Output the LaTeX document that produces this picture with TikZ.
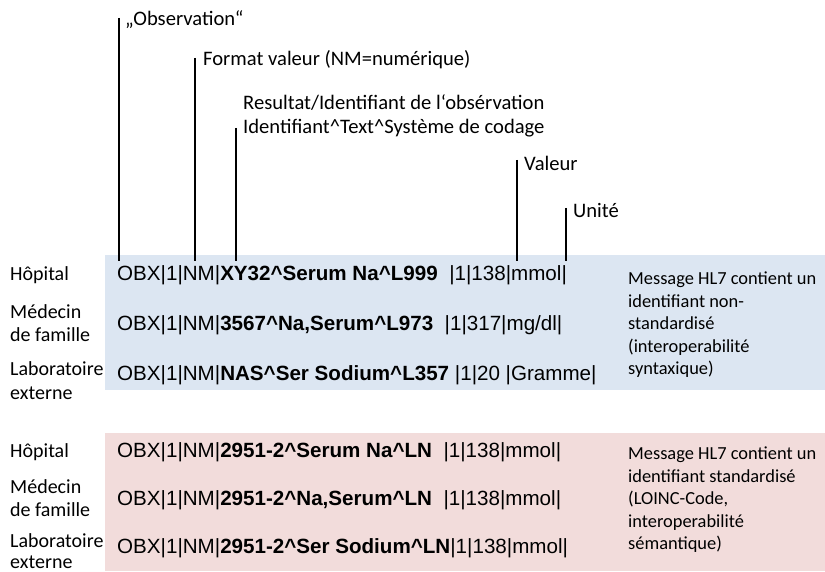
\documentclass[tikz,border=0pt]{standalone}
\usepackage{fontspec}
\setmainfont{Carlito}
\newfontfamily\obxfont{Liberation Sans}
\newcommand\crt{\textasciicircum}
\definecolor{syntblue}{HTML}{DCE6F2}
\definecolor{semred}{HTML}{F2DCDB}
\tikzset{
  lbl/.style={anchor=west,inner sep=0pt,font=\fontsize{20}{24}\selectfont},
  field/.style={lbl,font=\fontsize{20.6}{24}\selectfont},
  obx/.style={anchor=west,inner sep=0pt,font=\obxfont\fontsize{20.6}{24}\selectfont},
  note/.style={anchor=north west,inner sep=0pt,align=left,font=\fontsize{18.4}{22.5}\selectfont},
  marker/.style={line width=2.5pt}
}
\begin{document}
\begin{tikzpicture}[x=1pt,y=-1pt]
            \useasboundingbox (0,0) rectangle (825,572);
            \fill[syntblue] (105,255) rectangle (825,390);
            \fill[semred] (105,433) rectangle (825,571);
            % field labels
            \node[field] (obs) at (125,20) {„Observation“};
            \node[field] (fmt) at (203,60) {Format valeur (NM=numérique)};
            \node[field] (res) at (243,103) {Resultat/Identifiant de l‘obsérvation};
            \node[field] (ident) at (243,128) {Identifiant\crt Text\crt Système de codage};
            \node[field] (val) at (524,163) {Valeur};
            \node[field] (unit) at (573,210) {Unité};
            \foreach \n/\x/\y in {1/119/18,2/195/58,3/236/128,4/517/160,5/566/208}{
              \coordinate (t\n) at (\x,\y);
              \coordinate (b\n) at (\x,261);
              \draw[marker] (t\n) -- (b\n);
            }
            % non-standard identifiers
            \node[lbl] (hop1) at (10,275) {Hôpital};
            \node[lbl] (med1) at (10,312) {Médecin};
            \node[lbl] (fam1) at (10,335) {de famille};
            \node[lbl] (lab1) at (10,369) {Laboratoire};
            \node[lbl] (ext1) at (10,393) {externe};
            \node[obx] (m11) at (117,275) {OBX|1|NM|\textbf{XY32\crt Serum Na\crt L999}\ \ |1|138|mmol|};
            \node[obx] (m12) at (117,325) {OBX|1|NM|\textbf{3567\crt Na,Serum\crt L973}\ \ |1|317|mg/dl|};
            \node[obx] (m13) at (117,375) {OBX|1|NM|\textbf{NAS\crt Ser Sodium\crt L357}\ |1|20 |Gramme|};
            \node[note] (syn) at (628,272) {Message HL7 contient un\\identifiant non-\\standardisé\\(interoperabilité\\syntaxique)};
            % LOINC identifiers
            \node[lbl] (hop2) at (10,452) {Hôpital};
            \node[lbl] (med2) at (10,487) {Médecin};
            \node[lbl] (fam2) at (10,510) {de famille};
            \node[lbl] (lab2) at (10,541) {Laboratoire};
            \node[lbl] (ext2) at (10,562) {externe};
            \node[obx] (m21) at (117,452) {OBX|1|NM|\textbf{2951-2\crt Serum Na\crt LN}\ \ |1|138|mmol|};
            \node[obx] (m22) at (117,500) {OBX|1|NM|\textbf{2951-2\crt Na,Serum\crt LN}\ \ |1|138|mmol|};
            \node[obx] (m23) at (117,548) {OBX|1|NM|\textbf{2951-2\crt Ser Sodium\crt LN}|1|138|mmol|};
            \node[note] (sem) at (628,447) {Message HL7 contient un\\identifiant standardisé\\(LOINC-Code,\\interoperabilité\\sémantique)};
        \end{tikzpicture}
\end{document}
